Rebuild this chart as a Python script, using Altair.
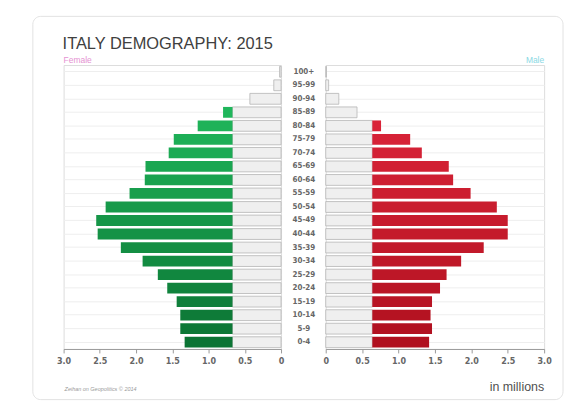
import altair as alt
import pandas as pd

ages = ["100+", "95-99", "90-94", "85-89", "80-84", "75-79", "70-74", "65-69",
        "60-64", "55-59", "50-54", "45-49", "40-44", "35-39", "30-34", "25-29",
        "20-24", "15-19", "10-14", "5-9", "0-4"]
female = [0.02, 0.10, 0.43, 0.80, 1.15, 1.48, 1.55, 1.87, 1.88, 2.09, 2.42,
          2.55, 2.53, 2.21, 1.91, 1.70, 1.57, 1.44, 1.39, 1.39, 1.33]
male = [0.01, 0.04, 0.18, 0.43, 0.76, 1.16, 1.32, 1.69, 1.75, 1.99, 2.35,
        2.50, 2.50, 2.17, 1.86, 1.66, 1.57, 1.46, 1.44, 1.46, 1.42]
female_base = 0.67
male_base = 0.64
ticks = [0, 0.5, 1.0, 1.5, 2.0, 2.5, 3.0]
title_text = "ITALY DEMOGRAPHY: 2015"
female_label = "Female"
male_label = "Male"
units_label = "in millions"
credit = "Zeihan on Geopolitics \u00a9 2014"

rows = []
for i, a in enumerate(ages):
    rows.append({"age": a, "idx": i, "f": female[i], "m": male[i],
                 "fg": min(female[i], female_base), "mg": min(male[i], male_base),
                 "ft": female_base, "mt": male_base})
df = pd.DataFrame(rows)
one = pd.DataFrame({"k": [0]})

W = 219
WM = 45
WR = 220
H = 286
NUM_FONT = "DejaVu Sans Condensed, DejaVu Sans, sans-serif"
TXT_FONT = "Liberation Sans, Arial, sans-serif"

yenc = alt.Y("age:N", sort=ages, title=None,
             scale=alt.Scale(paddingInner=0.2, paddingOuter=0.1),
             axis=alt.Axis(labels=False, ticks=False, domain=False, grid=True,
                           gridColor="#eeeeee", gridWidth=1))

def xaxis():
    return alt.Axis(title=None, values=ticks, grid=False, labelOverlap=False,
                    labelExpr="datum.value == 0 ? '0' : format(datum.value, '.1f')",
                    labelFont=NUM_FONT, labelFontWeight="bold", labelFontSize=9,
                    labelColor="#666", tickColor="#999", domainColor="#999",
                    tickSize=4, labelPadding=4, labelFlush=False)

def label(text, x, y, align, size, color, style="normal"):
    return alt.Chart(one).mark_text(
        text=text, align=align, baseline="alphabetic", font=TXT_FONT,
        fontSize=size, color=color, fontStyle=style).encode(
        x=alt.value(x), y=alt.value(y))

# ---------- left (female) ----------
lscale = alt.Scale(domain=[0, 3], reverse=True, nice=False)
lbase = alt.Chart(df)
card = alt.Chart(one).mark_rect(fill="white", fillOpacity=0, stroke="#e2e2e2",
                                strokeWidth=1, cornerRadius=8).encode(
    x=alt.value(-31), x2=alt.value(503), y=alt.value(-49), y2=alt.value(337))
lgrey = lbase.mark_bar(fill="#efefef", stroke="#b4b4b4", strokeWidth=0.8).encode(
    x=alt.X("fg:Q", scale=lscale, axis=xaxis()), y=yenc)
lcol = lbase.transform_filter("datum.f > datum.ft").mark_bar().encode(
    x=alt.X("ft:Q", scale=lscale, axis=xaxis()), x2="f:Q", y=yenc,
    color=alt.Color("idx:Q", legend=None,
                    scale=alt.Scale(domain=[0, 20], range=["#22c262", "#0b7434"])))
title = label(title_text, -1, -16, "left", 16.5, "#404040")
ftext = label(female_label, 0, -2, "left", 8.5, "#e592d2")
copy = label(credit, 1, 328, "left", 5.5, "#9a9a9a", "italic")
left = alt.layer(card, lgrey, lcol, title, ftext, copy).properties(width=W, height=H)

# ---------- middle (labels) ----------
mid = alt.Chart(df).mark_text(font=NUM_FONT, fontWeight="bold", fontSize=8,
                              color="#666").encode(
    y=alt.Y("age:N", sort=ages, title=None,
            scale=alt.Scale(paddingInner=0.2, paddingOuter=0.1), axis=None),
    x=alt.value(23), text="age:N").properties(
    width=WM, height=H, view=alt.ViewBackground(stroke=None))

# ---------- right (male) ----------
rscale = alt.Scale(domain=[0, 3], nice=False)
rbase = alt.Chart(df)
rgrey = rbase.mark_bar(fill="#efefef", stroke="#b4b4b4", strokeWidth=0.8).encode(
    x=alt.X("mg:Q", scale=rscale, axis=xaxis()), y=yenc)
rcol = rbase.transform_filter("datum.m > datum.mt").mark_bar().encode(
    x=alt.X("mt:Q", scale=rscale, axis=xaxis()), x2="m:Q", y=yenc,
    color=alt.Color("idx:Q", legend=None,
                    scale=alt.Scale(domain=[0, 20], range=["#e3283f", "#b0101f"])))
mtext = label(male_label, WR, -2, "right", 8.5, "#8ad9e4")
units = label(units_label, WR, 328, "right", 12.5, "#505050")
right = alt.layer(rgrey, rcol, mtext, units).properties(width=WR, height=H)

chart = alt.hconcat(left, mid, right, spacing=0, bounds="flush").resolve_scale(
    color="independent", x="independent"
).properties(
    padding={"left": 24, "top": 6, "right": 0, "bottom": 0}
).configure_view(stroke="#d4d4d4", strokeWidth=1).configure(background="white")

chart.save("out.html", embed_options={"renderer": "svg", "actions": False})
